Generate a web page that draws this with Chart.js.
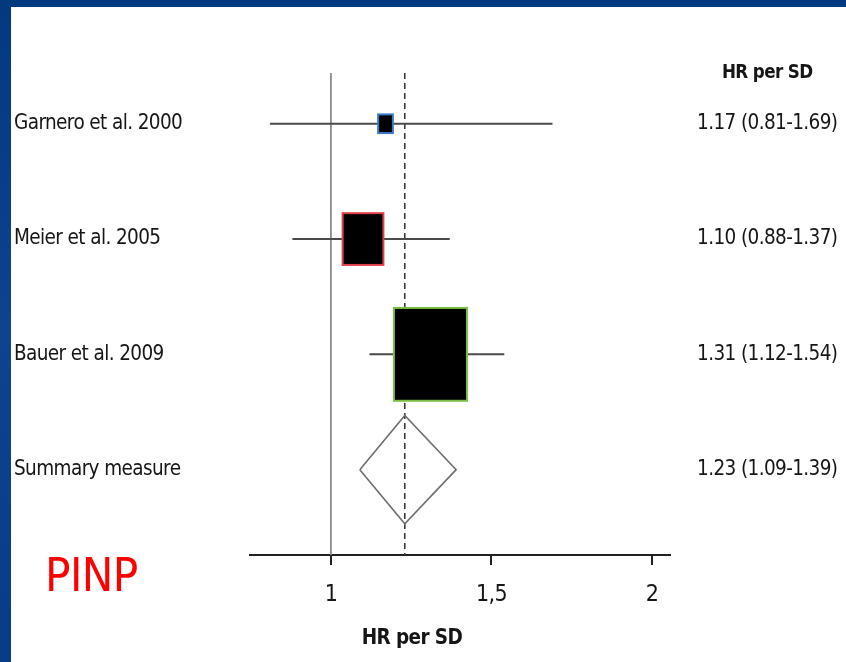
<!DOCTYPE html>
<html>
<head>
<meta charset="utf-8">
<script src="https://cdn.jsdelivr.net/npm/chart.js@4/dist/chart.umd.min.js"></script>
<style>
  html, body { margin: 0; padding: 0; overflow: hidden; background: #ffffff; }
  #wrap { position: relative; width: 846px; height: 662px; }
</style>
</head>
<body>
<div id="wrap"><canvas id="c" width="846" height="662"></canvas></div>
<script>
// ---------- data ----------
const studies = ['Garnero et al. 2000', 'Meier et al. 2005', 'Bauer et al. 2009'];
const hr = [1.17, 1.10, 1.31];
const ciLow = [0.81, 0.88, 1.12];
const ciHigh = [1.69, 1.37, 1.54];
const weights = [3, 23, 74];           // relative study weight (box area)
const summaryLabel = 'Summary measure';
const summaryHR = 1.23;
const summaryLow = 1.09;
const summaryHigh = 1.39;
const xTicks = [1, 1.5, 2];
const xTickLabels = ['1', '1,5', '2'];
const columnHeader = 'HR per SD';
const axisTitle = 'HR per SD';
const markerLabel = 'PINP';

// ---------- derived ----------
const rowLabels = studies.concat([summaryLabel]);
const fmt = v => v.toFixed(2);
const rightLabels = hr.map((v, i) => `${fmt(v)} (${fmt(ciLow[i])}-${fmt(ciHigh[i])})`)
  .concat([`${fmt(summaryHR)} (${fmt(summaryLow)}-${fmt(summaryHigh)})`]);

const FONT = "'Liberation Sans Narrow', 'DejaVu Sans Condensed', 'Liberation Sans', sans-serif";
const TXT = '#161616';
const SPACING = '-0.6px';
const boxColors = ['#3b78c8', '#e0404a', '#7cc043'];
const Y_MIN = -0.44, Y_MAX = 3.74;
const summaryRow = studies.length;
const diamondHalf = 0.47;

const datasets = [];
// CI whiskers
studies.forEach((s, i) => {
  datasets.push({
    type: 'scatter', showLine: true, pointRadius: 0,
    borderColor: '#4a4a4a', borderWidth: 2,
    data: [{x: ciLow[i], y: i}, {x: ciHigh[i], y: i}]
  });
});
// summary diamond
datasets.push({
  type: 'scatter', showLine: true, pointRadius: 0, tension: 0,
  borderColor: '#6e6e6e', borderWidth: 1.6, fill: false,
  data: [
    {x: summaryLow, y: summaryRow},
    {x: summaryHR, y: summaryRow - diamondHalf},
    {x: summaryHigh, y: summaryRow},
    {x: summaryHR, y: summaryRow + diamondHalf},
    {x: summaryLow, y: summaryRow}
  ]
});
// dashed summary line
datasets.push({
  type: 'scatter', showLine: true, pointRadius: 0,
  borderColor: '#3a3a3a', borderWidth: 1.6, borderDash: [6, 4],
  data: [{x: summaryHR, y: Y_MIN}, {x: summaryHR, y: Y_MAX}]
});
// line of no effect
datasets.push({
  type: 'scatter', showLine: true, pointRadius: 0,
  borderColor: '#8c8c8c', borderWidth: 1.8,
  data: [{x: 1, y: Y_MIN}, {x: 1, y: Y_MAX}]
});

const forestPlugin = {
  id: 'forest',
  beforeUpdate(chart) { chart.ctx.letterSpacing = SPACING; },
  beforeDraw(chart) {
    const c = chart.ctx;
    c.letterSpacing = SPACING;
    c.save();
    const g = c.createLinearGradient(0, 0, 0, chart.height);
    g.addColorStop(0, '#02397f');
    g.addColorStop(0.5, '#0d438f');
    g.addColorStop(1, '#083c86');
    c.fillStyle = g;
    c.fillRect(0, 0, chart.width, chart.height);
    c.fillStyle = '#ffffff';
    c.fillRect(11, 7, chart.width - 11, chart.height - 7);
    c.restore();
  },
  afterDatasetsDraw(chart) {
    const c = chart.ctx;
    const xs = chart.scales.x, ys = chart.scales.y;
    c.save();
    hr.forEach((v, i) => {
      const w = 8.5 * Math.sqrt(weights[i]);
      const h = w * 1.27;
      const cx = xs.getPixelForValue(v);
      const cy = ys.getPixelForValue(i);
      c.fillStyle = '#000000';
      c.fillRect(cx - w / 2, cy - h / 2, w, h);
      c.strokeStyle = boxColors[i];
      c.lineWidth = 2;
      c.strokeRect(cx - w / 2, cy - h / 2, w, h);
    });
    c.restore();
  },
  afterDraw(chart) {
    const c = chart.ctx;
    c.save();
    c.letterSpacing = SPACING;
    c.fillStyle = TXT;
    c.font = `bold 20.5px ${FONT}`;
    c.textAlign = 'center';
    c.textBaseline = 'middle';
    c.fillText(axisTitle, 412, 639);
    c.fillStyle = '#ff0000';
    c.font = `47px ${FONT}`;
    c.textAlign = 'left';
    c.textBaseline = 'alphabetic';
    c.fillText(markerLabel, 45, 591);
    c.restore();
  }
};

new Chart(document.getElementById('c'), {
  type: 'scatter',
  data: { datasets },
  plugins: [forestPlugin],
  options: {
    responsive: false,
    animation: false,
    devicePixelRatio: 1,
    layout: { padding: { left: 14, top: 73, right: 0, bottom: 0 } },
    plugins: { legend: { display: false }, tooltip: { enabled: false } },
    scales: {
      x: {
        type: 'linear', position: 'bottom',
        min: 0.748, max: 2.056,
        afterBuildTicks: s => { s.ticks = xTicks.map(v => ({ value: v })); },
        afterFit: s => { s.height = 107; },
        ticks: {
          autoSkip: false, maxRotation: 0, padding: 16,
          color: TXT, font: { family: FONT, size: 23 },
          callback: (v) => { const k = xTicks.indexOf(v); return k >= 0 ? xTickLabels[k] : ''; }
        },
        grid: { display: true, drawOnChartArea: false, drawTicks: true, tickLength: 10, color: '#222222', lineWidth: 2 },
        border: { display: true, color: '#222222', width: 2 }
      },
      y: {
        type: 'linear', position: 'left', reverse: true,
        min: Y_MIN, max: Y_MAX,
        afterBuildTicks: s => { s.ticks = rowLabels.map((l, i) => ({ value: i })); },
        afterFit: s => { s.width = 236; },
        ticks: {
          autoSkip: false, crossAlign: 'far', padding: 0,
          color: TXT, font: { family: FONT, size: 20.5 },
          callback: (v) => rowLabels[v] ?? ''
        },
        grid: { display: false, drawTicks: false },
        border: { display: false }
      },
      y2: {
        type: 'linear', position: 'right', reverse: true,
        min: Y_MIN, max: Y_MAX,
        afterBuildTicks: s => { s.ticks = [{ value: Y_MIN }].concat(rightLabels.map((l, i) => ({ value: i }))); },
        afterFit: s => { s.width = 176; },
        ticks: {
          autoSkip: false, crossAlign: 'center', padding: 27,
          color: TXT,
          font: (ctx) => ctx.index === 0 ? { family: FONT, size: 18.6, weight: 'bold' } : { family: FONT, size: 20.5 },
          callback: (v, idx) => idx === 0 ? columnHeader : (rightLabels[idx - 1] ?? '')
        },
        grid: { display: false, drawTicks: false },
        border: { display: false }
      }
    }
  }
});
</script>
</body>
</html>
